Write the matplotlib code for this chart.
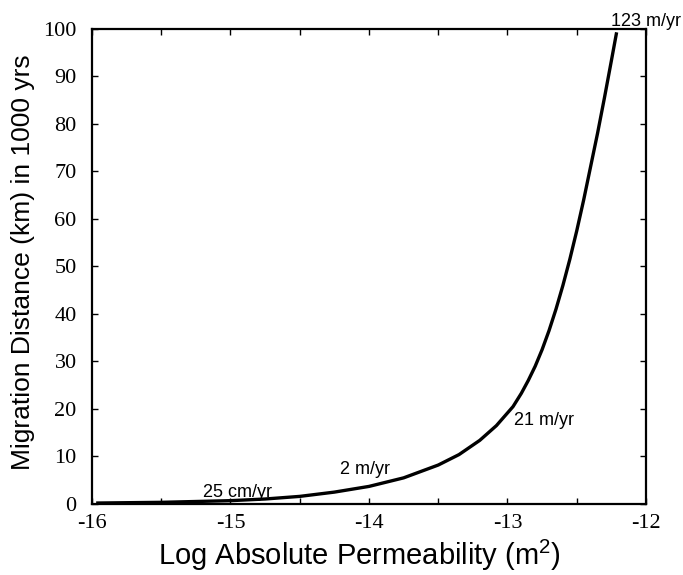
import matplotlib
matplotlib.use("Agg")
import matplotlib.pyplot as plt

# values
log_perm = [-15.97, -15.5, -15.0, -14.75, -14.5, -14.25, -14.0, -13.75, -13.5,
            -13.35, -13.2, -13.08, -12.96, -12.9, -12.85, -12.8, -12.75, -12.7,
            -12.65, -12.6, -12.55, -12.5, -12.45, -12.4, -12.35, -12.3, -12.25,
            -12.212]
distance_km = [0.2, 0.35, 0.7, 1.05, 1.6, 2.5, 3.7, 5.5, 8.2,
               10.4, 13.4, 16.5, 20.5, 23.3, 26, 29, 32.5, 36.5,
               41, 46, 51.5, 57.5, 64, 71, 78, 85.5, 93.3,
               99.3]

rate_labels = ['25 cm/yr', '2 m/yr', '21 m/yr', '123 m/yr']
rate_x = [-14.95, -14.03, -12.95, -12.25]
rate_y = [1.5, 6.3, 16.6, 100.6]
rate_ha = ['center', 'center', 'left', 'left']

x_ticks = [-16, -15, -14, -13, -12]
y_ticks = [0, 10, 20, 30, 40, 50, 60, 70, 80, 90, 100]

plt.rcParams['mathtext.fontset'] = 'custom'
plt.rcParams['mathtext.rm'] = 'Liberation Sans'

fig = plt.figure(figsize=(6.83, 5.75), dpi=100)
ax = fig.add_axes([0.1347, 0.1235, 0.8111, 0.8261])

ax.plot(log_perm, distance_km, color='black', linewidth=2.4,
        solid_joinstyle='round', solid_capstyle='butt')

ax.set_xlim(-16, -12)
ax.set_ylim(0, 100)
ax.set_xticks(x_ticks)
ax.set_xticks([-15.5, -14.5, -13.5, -12.5], minor=True)
ax.set_yticks(y_ticks)
ax.set_xticklabels([str(t) for t in x_ticks], fontfamily='Liberation Serif', fontsize=16)
ax.set_yticklabels([str(t) for t in y_ticks], fontfamily='Liberation Serif', fontsize=16)
ax.tick_params(axis='both', which='both', direction='in', top=True, right=True,
               length=4, width=1, color='black')
ax.tick_params(axis='x', which='major', pad=7)
ax.tick_params(axis='y', which='major', pad=11)
for s in ax.spines.values():
    s.set_linewidth(1.6)

for lab, x, y, ha in zip(rate_labels, rate_x, rate_y, rate_ha):
    ax.text(x, y, lab, ha=ha, va='baseline', fontsize=13,
            fontfamily='Liberation Sans', clip_on=False)

fig.text(359 / 683, 1 - 565 / 575, r'Log Absolute Permeability (m$^{\mathregular{2}}$)',
         ha='center', va='baseline', fontsize=21, fontfamily='Liberation Sans')
fig.text(23 / 683, 1 - 262 / 575, 'Migration Distance (km) in 1000 yrs',
         ha='center', va='center', rotation=90, fontsize=19, fontfamily='Liberation Sans')

fig.savefig('out.png', dpi=100)
